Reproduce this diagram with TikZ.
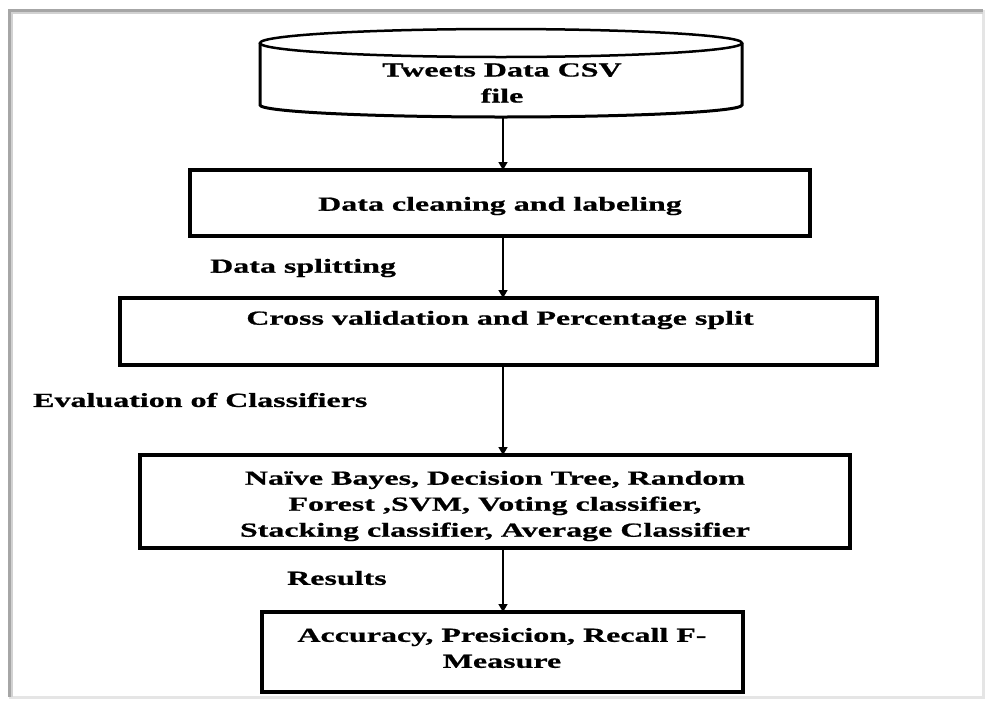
\documentclass[tikz,border=0pt]{standalone}
\usepackage{fontspec}
\setmainfont{Liberation Serif}[FakeStretch=1.6, BoldFeatures={FakeBold=0.8}]
\usetikzlibrary{arrows.meta}
\begin{document}
\begin{tikzpicture}[x=1pt,y=-1pt,
  txt/.style={font=\fontsize{20}{26}\selectfont\bfseries, align=center, inner sep=0pt},
  lbl/.style={font=\fontsize{20}{26}\selectfont\bfseries, inner sep=0pt, anchor=west},
  box/.style={draw, line width=3.4pt, inner sep=0pt, outer sep=0pt},
  arr/.style={-{Triangle[length=8pt,width=9pt]}, line width=1.6pt},
  frame/.style={line width=3pt}]
\useasboundingbox (0,0) rectangle (986,702);
% outer frame
\draw[frame, gray!20] (983,10) -- (983,697) -- (9,697);
\draw[frame, gray!70] (9,697) -- (9,10) -- (983,10);
\draw[line width=1.5pt, gray!35] (12,697) -- (12,13) -- (983,13);
% cylinder
\draw[line width=3pt, fill=white] (260,43) -- (260,105) arc[start angle=180, end angle=0, x radius=241, y radius=12] -- (742,43);
\draw[line width=2.5pt] (501,43) ellipse[x radius=241, y radius=14];
\node[txt] (csv) at (502,83) {Tweets Data CSV\\file};
\coordinate (csvb) at (503,117);
% boxes
\node[box, minimum width=620pt, minimum height=66pt] (clean) at (500,203) {};
\node[txt] (cleant) at (500,206) {Data cleaning and labeling};
\node[box, minimum width=757pt, minimum height=67pt] (split) at (498.5,331.5) {};
\node[txt] (splitt) at (500,320) {Cross validation and Percentage split};
\node[box, minimum width=710pt, minimum height=93pt] (clf) at (495,501.5) {};
\node[txt] (clft) at (495,506) {Naïve Bayes, Decision Tree, Random\\Forest ,SVM, Voting classifier,\\Stacking classifier, Average Classifier};
\node[box, line width=4.2pt, minimum width=481pt, minimum height=80pt] (res) at (502.5,652) {};
\node[txt] (rest) at (502,648) {Accuracy, Presicion, Recall F-\\Measure};
% labels
\node[lbl] (l1) at (210,268) {Data splitting};
\node[lbl] (l2) at (33,400) {Evaluation of Classifiers};
\node[lbl] (l3) at (287,578) {Results};
% arrows
\draw[arr] (csvb) -- (clean.north -| csvb);
\draw[arr] (clean.south -| csvb) -- (split.north -| csvb);
\draw[arr] (split.south -| csvb) -- (clf.north -| csvb);
\draw[arr] (clf.south -| csvb) -- (res.north -| csvb);
\end{tikzpicture}
\end{document}
